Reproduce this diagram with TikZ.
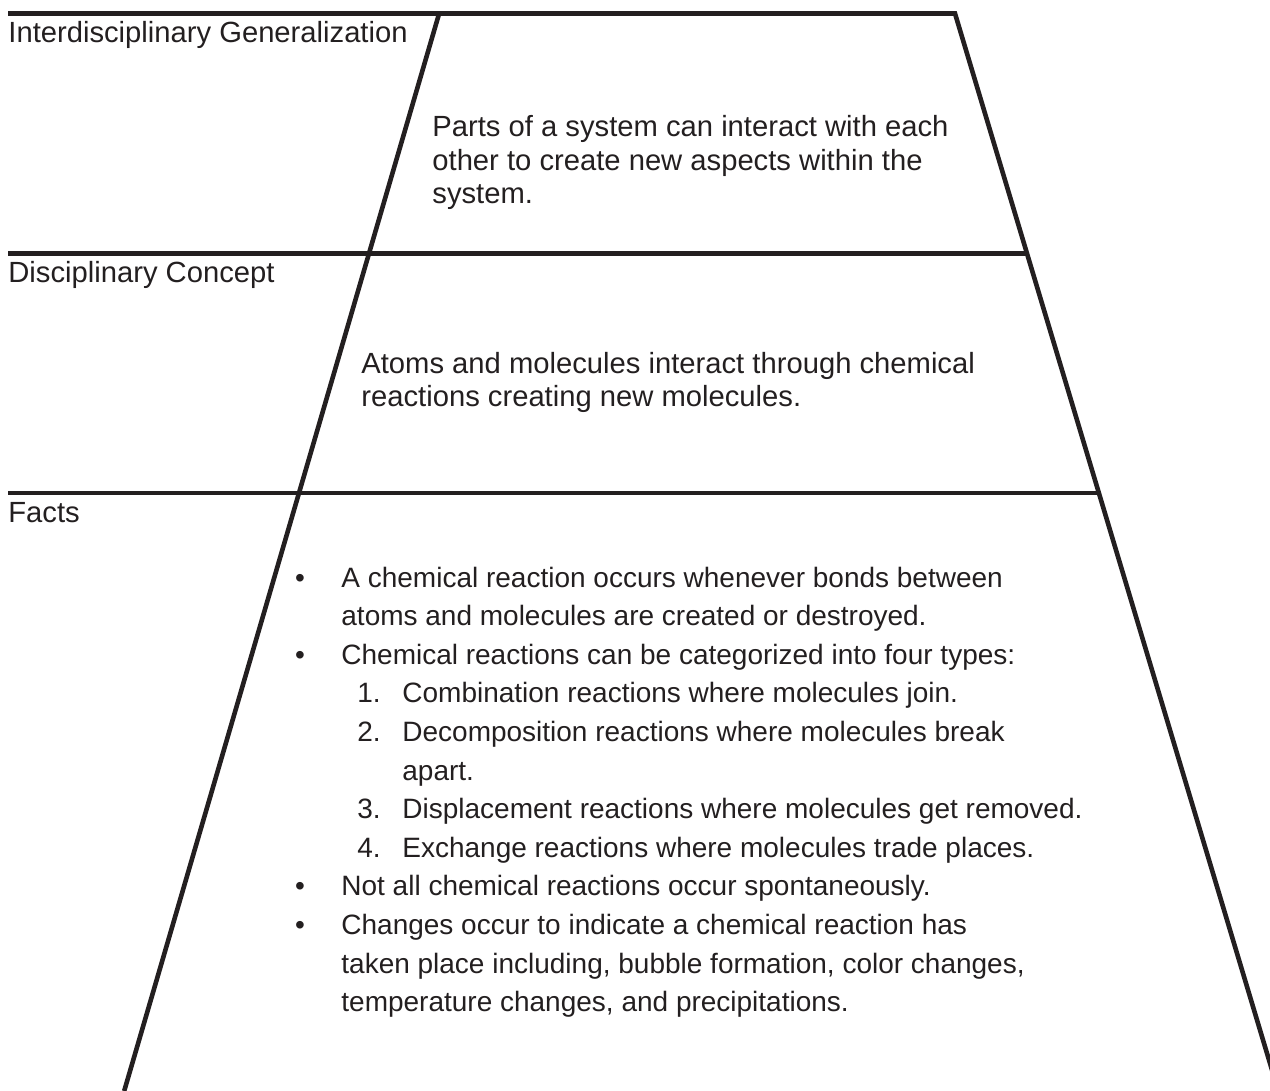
\documentclass[tikz,border=0pt]{standalone}
\usepackage{fontspec}
\setmainfont{Liberation Sans}
\definecolor{ink}{HTML}{231F20}
\tikzset{
  rule/.style={line width=2.3pt,draw=ink},
  txt/.style={anchor=base west,inner sep=0pt,text=ink,font=\fontsize{14.6}{17}\selectfont},
  facttxt/.style={txt,font=\fontsize{14}{17}\selectfont},
  itemmark/.style={facttxt,anchor=base},
}
\begin{document}
\begin{tikzpicture}[x=0.5pt,y=-0.5pt]
	\useasboundingbox (0,0) rectangle (1270,1091);
	\clip (0,0) rectangle (1270,1091);
	% corners of the levels
	\coordinate (tl)  at (8,13.5);
	\coordinate (tr)  at (955,13.5);
	\coordinate (br)  at (1278.3,1091);
	\coordinate (lt)  at (438.7,15);
	\coordinate (lb)  at (124.2,1091);
	\coordinate (m1l) at (8,253.5);
	\coordinate (m1r) at (1027,253.5);
	\coordinate (m2l) at (8,493);
	\coordinate (m2r) at (1098.8,493);
	\draw[rule] (tl) -- (tr) -- (br);
	\draw[rule] (lt) -- (lb);
	\draw[rule] (m1l) -- (m1r);
	\draw[rule] (m2l) -- (m2r);

	% level headings
	\node[txt] (hgen) at (8,43)  {Interdisciplinary Generalization};
	\node[txt] (hcon) at (8,283) {Disciplinary Concept};
	\node[txt] (hfac) at (8,523) {Facts};

	% generalization
	\foreach \t [count=\i] in {{Parts of a system can interact with each},
		{other to create new aspects within the},{system.}}
		\node[txt] (gen\i) at (432,{137+33.5*(\i-1)}) {\t};

	% concept
	\foreach \t [count=\i] in {{Atoms and molecules interact through chemical},
		{reactions creating new molecules.}}
		\node[txt] (con\i) at (361,{373+33.5*(\i-1)}) {\t};

	% facts, one line each
	\foreach \x/\t [count=\i] in {
		341/{A chemical reaction occurs whenever bonds between},
		341/{atoms and molecules are created or destroyed.},
		341/{Chemical reactions can be categorized into four types:},
		402/{Combination reactions where molecules join.},
		402/{Decomposition reactions where molecules break},
		402/{apart.},
		402/{Displacement reactions where molecules get removed.},
		402/{Exchange reactions where molecules trade places.},
		341/{Not all chemical reactions occur spontaneously.},
		341/{Changes occur to indicate a chemical reaction has},
		341/{taken place including, bubble formation, color changes,},
		341/{temperature changes, and precipitations.}}
		\node[facttxt] (fac\i) at (\x,{587+38.6*(\i-1)}) {\t};

	% bullets
	\foreach \k in {1,3,9,10}
		\node[itemmark] (bul\k) at (300,{587+38.6*(\k-1)}) {\textbullet};
	% numbers
	\foreach \k/\n in {4/1,5/2,7/3,8/4}
		\node[facttxt] (num\n) at (357,{587+38.6*(\k-1)}) {\n.};
\end{tikzpicture}
\end{document}
